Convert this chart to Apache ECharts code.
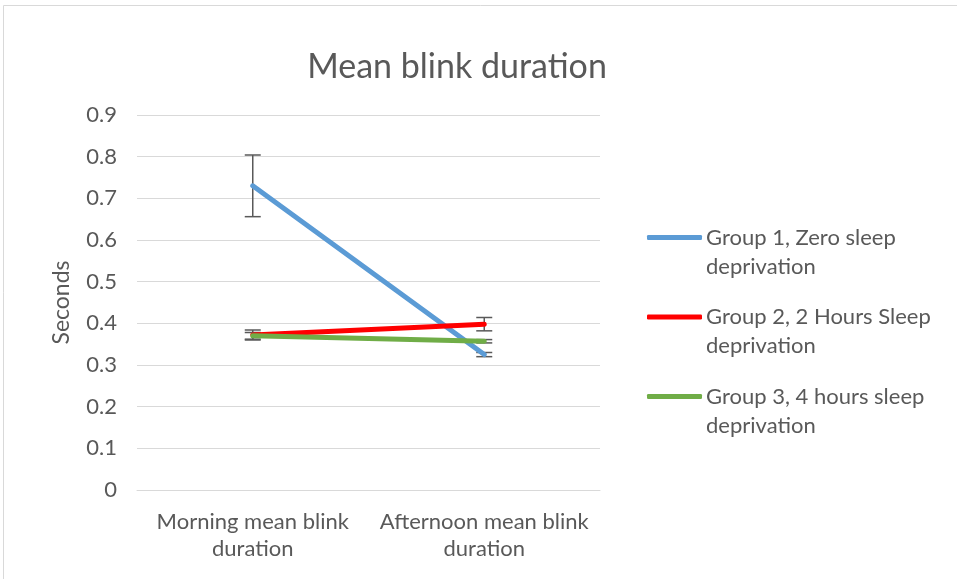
<!DOCTYPE html>
<html>
<head>
<meta charset="utf-8">
<script src="https://cdn.jsdelivr.net/npm/echarts@6/dist/echarts.min.js"></script>
<style>
  html, body { margin: 0; padding: 0; background: #fff; }
  #chart { width: 957px; height: 579px; }
</style>
</head>
<body>
<div id="chart"></div>
<script>
const categories = ['Morning mean blink\nduration', 'Afternoon mean blink\nduration']
const seriesNames = [
  'Group 1, Zero sleep\ndeprivation',
  'Group 2, 2 Hours Sleep\ndeprivation',
  'Group 3, 4 hours sleep\ndeprivation'
]
const group1 = [0.730, 0.325]
const group2 = [0.372, 0.398]
const group3 = [0.370, 0.357]
const group1Err = [0.074, 0.005]
const group2Err = [0.012, 0.016]
const group3Err = [0.008, 0.004]
const colors = ['#5B9BD5', '#FF0000', '#70AD47']

const font = 'Lato, "Liberation Sans", sans-serif'
const textColor = '#595959'

const chart = echarts.init(document.getElementById('chart'), null, { renderer: 'canvas' })

const values = [group1, group2, group3]
const errs = [group1Err, group2Err, group3Err]

const lineSeries = values.map((vals, i) => ({
  type: 'line',
  name: seriesNames[i],
  data: vals,
  symbol: 'none',
  z: 5,
  lineStyle: { width: 5, color: colors[i], cap: 'round' },
  itemStyle: { color: colors[i] }
}))

// error bars drawn under the lines
const errSeries = values.map((vals, i) => ({
  type: 'custom',
  name: 'err' + i,
  z: 3,
  silent: true,
  data: vals.map((v, j) => [j, v - errs[i][j], v + errs[i][j]]),
  renderItem: (params, api) => {
    const lo = api.coord([api.value(0), api.value(1)])
    const hi = api.coord([api.value(0), api.value(2)])
    const hw = 8
    const style = { stroke: '#595959', lineWidth: 1.5 }
    return {
      type: 'group',
      children: [
        { type: 'line', shape: { x1: lo[0], y1: lo[1], x2: hi[0], y2: hi[1] }, style },
        { type: 'line', shape: { x1: lo[0] - hw, y1: lo[1], x2: lo[0] + hw, y2: lo[1] }, style },
        { type: 'line', shape: { x1: hi[0] - hw, y1: hi[1], x2: hi[0] + hw, y2: hi[1] }, style }
      ]
    }
  }
}))

chart.setOption({
  animation: false,
  color: colors,
  title: {
    text: 'Mean blink duration',
    left: 452,
    textAlign: 'center',
    top: 45,
    textStyle: { fontFamily: font, fontSize: 34, fontWeight: 'normal', color: textColor }
  },
  legend: {
    orient: 'vertical',
    left: 647,
    top: 194,
    padding: 0,
    itemGap: -7.5,
    itemWidth: 55,
    itemHeight: 5,
    icon: 'roundRect',
    data: seriesNames,
    formatter: name => ' \n' + name,
    textStyle: {
      fontFamily: font,
      fontSize: 22,
      color: textColor,
      lineHeight: 29,
      padding: [0, 0, 0, -1]
    }
  },
  grid: { left: 137, right: 357, top: 115, bottom: 89 },
  xAxis: {
    type: 'category',
    data: categories,
    boundaryGap: true,
    axisTick: { show: false },
    axisLine: { lineStyle: { color: '#d9d9d9', width: 1 } },
    axisLabel: {
      interval: 0,
      fontFamily: font,
      fontSize: 22,
      color: textColor,
      lineHeight: 27,
      margin: 18
    }
  },
  yAxis: {
    type: 'value',
    min: 0,
    max: 0.9,
    interval: 0.1,
    name: 'Seconds',
    nameLocation: 'middle',
    nameGap: 64,
    nameTextStyle: { fontFamily: font, fontSize: 23, color: textColor },
    axisLine: { show: false },
    axisTick: { show: false },
    axisLabel: {
      fontFamily: font,
      fontSize: 22,
      color: textColor,
      margin: 20,
      formatter: v => (v === 0 ? '0' : v.toFixed(1))
    },
    splitLine: { lineStyle: { color: '#d9d9d9', width: 1 } }
  },
  graphic: [{
    type: 'rect',
    shape: { x: 3.5, y: 5.5, width: 1000, height: 1000 },
    style: { fill: 'none', stroke: '#d9d9d9', lineWidth: 1 },
    silent: true
  }],
  series: [...errSeries, ...lineSeries]
})
</script>
</body>
</html>
